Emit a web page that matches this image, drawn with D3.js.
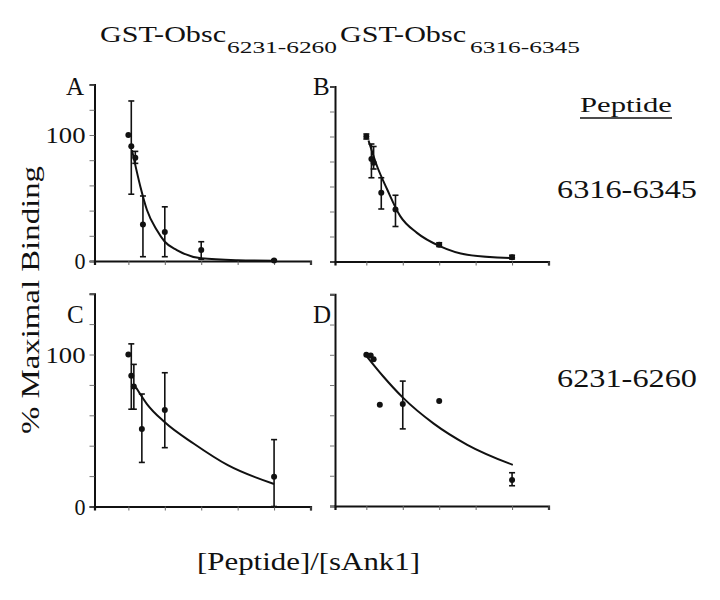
<!DOCTYPE html>
<html><head><meta charset="utf-8">
<script src="https://cdn.jsdelivr.net/npm/d3@7"></script>
<style>body{margin:0;background:#fff}svg{display:block}text{font-family:"Liberation Serif","DejaVu Serif",serif;fill:#111}</style>
</head><body>
<svg id="c" width="720" height="600"></svg>
<script>
// ---- data ----
const xTicks = [0, 1, 2, 3, 4, 5];
const yTicks = [0, 20, 40, 60, 80, 100, 120, 140];
const yTickLabels = [0, 100];
const panelNames = ["A", "B", "C", "D"];
const titles = ["GST-Obsc", "GST-Obsc"];
const titleSubs = ["6231-6260", "6316-6345"];
const legendTitle = "Peptide";
const rowLabels = ["6316-6345", "6231-6260"];
const yTitle = "% Maximal Binding";
const xTitle = "[Peptide]/[sAnk1]";

// Panel A
const aX = [0, 0.08, 0.19, 0.4, 1, 2, 4];
const aY = [100, 91, 82, 29, 23, 8.7, 0.3];
const aLo = [100, 53, 77.5, 3.4, 3.4, 1.4, 0];
const aHi = [100, 127, 87, 51.6, 43, 15.3, 1];
const aCurveX = [0.1, 0.33, 0.51, 0.78, 1.0, 1.33, 2, 3, 4];
const aCurveY = [88, 59, 40.5, 24.6, 15.3, 8.7, 2.1, 0.6, 0.2];
// Panel B
const bX = [0, 0.14, 0.2, 0.41, 0.8, 2, 4];
const bY = [100, 82, 79, 55, 41.7, 13.5, 3.5];
const bLo = [98, 67, 74, 42, 28, 12, 2];
const bHi = [102, 94, 92, 67, 53, 15, 5];
const bCurveX = [0.06, 0.29, 0.57, 0.93, 1.39, 2.03, 2.77, 4];
const bCurveY = [96.8, 76.6, 57.8, 36.3, 22.9, 12.1, 5.4, 2.7];
// Panel C
const cX = [0, 0.08, 0.15, 0.37, 1.0, 4];
const cY = [100, 86, 79, 51, 63.5, 19.6];
const cLo = [100, 64, 64, 29, 38.7, 0];
const cHi = [100, 107, 93.5, 74, 88, 44];
const cCurveX = [0.21, 0.51, 1.0, 1.8, 2.73, 4];
const cCurveY = [78.3, 67.4, 55.4, 41.3, 27.2, 14.8];
// Panel D
const dX = [0, 0.12, 0.2, 0.37, 1.0, 2, 4];
const dY = [100, 99.5, 97, 67, 67.5, 69.5, 17.2];
const dLo = [100, 99.5, 97, 67, 51, 69.5, 13.4];
const dHi = [100, 99.5, 97, 67, 82.6, 69.5, 22];
const dCurveX = [0, 0.46, 1.01, 1.85, 2.77, 4.02];
const dCurveY = [99.3, 85.8, 71.5, 54.5, 40.5, 27.2];

const panels = [
  {x:aX,y:aY,lo:aLo,hi:aHi,cx:aCurveX,cy:aCurveY},
  {x:bX,y:bY,lo:bLo,hi:bHi,cx:bCurveX,cy:bCurveY},
  {x:cX,y:cY,lo:cLo,hi:cHi,cx:cCurveX,cy:cCurveY},
  {x:dX,y:dY,lo:dLo,hi:dHi,cx:dCurveX,cy:dCurveY}
];

// ---- layout ----
const svg = d3.select("#c");
const geo = [
  {x0:94.5, x1:310.5, y0:261, y1:84.6, xd:-0.93, letter:[66,95], labels:true},
  {x0:335, x1:548.5, y0:261.5, y1:86.5, xd:-0.86, letter:[313,95], labels:false},
  {x0:94.5, x1:310.5, y0:506.5, y1:293.7, xd:-0.93, letter:[67,323], labels:true},
  {x0:335, x1:548.5, y0:506, y1:294.3, xd:-0.86, letter:[313,323], labels:false}
];

geo.forEach((g, i) => {
  const p = panels[i];
  const xs = d3.scaleLinear().domain([g.xd, 5]).range([g.x0, g.x1]);
  const ys = d3.scaleLinear().domain([0, 140]).range([g.y0, g.y1]);
  const gp = svg.append("g");

  const yAx = d3.axisLeft(ys).tickValues(yTicks).tickSizeOuter(0).tickSize(5).tickPadding(4)
     .tickFormat(d => (g.labels && yTickLabels.includes(d)) ? d : "");
  const ya = gp.append("g").attr("transform", `translate(${g.x0},0)`).call(yAx);
  ya.select(".domain").attr("stroke", "#111").attr("stroke-width", 2);
  ya.selectAll(".tick line").attr("stroke", "#777").attr("stroke-width", 1);
  ya.selectAll(".tick text").attr("font-size", 24).attr("font-family", "Liberation Serif").attr("fill", "#111")
    .attr("textLength", d => d === 100 ? 40 : 11).attr("lengthAdjust", "spacingAndGlyphs");

  const xAx = d3.axisBottom(xs).tickValues(xTicks).tickSizeOuter(0).tickSize(4).tickFormat("");
  const xa = gp.append("g").attr("transform", `translate(0,${g.y0})`).call(xAx);
  xa.select(".domain").attr("stroke", "#111").attr("stroke-width", 2.2);
  xa.selectAll(".tick line").attr("stroke", "#666").attr("stroke-width", 1);

  // fitted curve
  const cpts = p.cx.map((v, k) => [v, p.cy[k]]);
  gp.append("path").datum(cpts)
    .attr("d", d3.line().x(d => xs(d[0])).y(d => ys(d[1])).curve(d3.curveMonotoneX))
    .attr("fill", "none").attr("stroke", "#111").attr("stroke-width", 2);

  // error bars
  p.x.forEach((xv, k) => {
    if (p.hi[k] - p.lo[k] > 0.5) {
      const X = xs(xv);
      gp.append("line").attr("x1", X).attr("x2", X).attr("y1", ys(p.lo[k])).attr("y2", ys(p.hi[k]))
        .attr("stroke", "#111").attr("stroke-width", 1.6);
      [p.lo[k], p.hi[k]].forEach(v => {
        gp.append("line").attr("x1", X - 3).attr("x2", X + 3).attr("y1", ys(v)).attr("y2", ys(v))
          .attr("stroke", "#111").attr("stroke-width", 1.6);
      });
    }
  });
  // points
  gp.selectAll("circle.pt").data(p.x.map((v, k) => [v, p.y[k]])).enter().append("circle")
    .attr("cx", d => xs(d[0])).attr("cy", d => ys(d[1])).attr("r", 3).attr("fill", "#111");

  // letter
  svg.append("text").attr("x", g.letter[0]).attr("y", g.letter[1]).attr("font-size", 25)
     .text(panelNames[i]);
});

// titles
const tx = [[100, 227], [340, 470]];
titles.forEach((t, i) => {
  svg.append("text").attr("x", tx[i][0]).attr("y", 42).attr("font-size", 24)
     .attr("textLength", 126).attr("lengthAdjust", "spacingAndGlyphs").text(t);
  svg.append("text").attr("x", tx[i][1]).attr("y", 53).attr("font-size", 16)
     .attr("textLength", 110).attr("lengthAdjust", "spacingAndGlyphs").text(titleSubs[i]);
});

// legend
svg.append("text").attr("x", 580).attr("y", 112).attr("font-size", 22)
   .attr("textLength", 92).attr("lengthAdjust", "spacingAndGlyphs").text(legendTitle);
svg.append("line").attr("x1", 580).attr("x2", 672).attr("y1", 118).attr("y2", 118).attr("stroke", "#111").attr("stroke-width", 1.5);
[198, 387].forEach((yy, i) => {
  svg.append("text").attr("x", 557).attr("y", yy).attr("font-size", 25)
     .attr("textLength", 140).attr("lengthAdjust", "spacingAndGlyphs").text(rowLabels[i]);
});

// axis titles
svg.append("text").attr("transform", "translate(39,300) rotate(-90)").attr("text-anchor", "middle")
   .attr("font-size", 25).attr("textLength", 268).attr("lengthAdjust", "spacingAndGlyphs").text(yTitle);
svg.append("text").attr("x", 197).attr("y", 570).attr("font-size", 25)
   .attr("textLength", 223).attr("lengthAdjust", "spacingAndGlyphs").text(xTitle);
</script>
</body></html>
